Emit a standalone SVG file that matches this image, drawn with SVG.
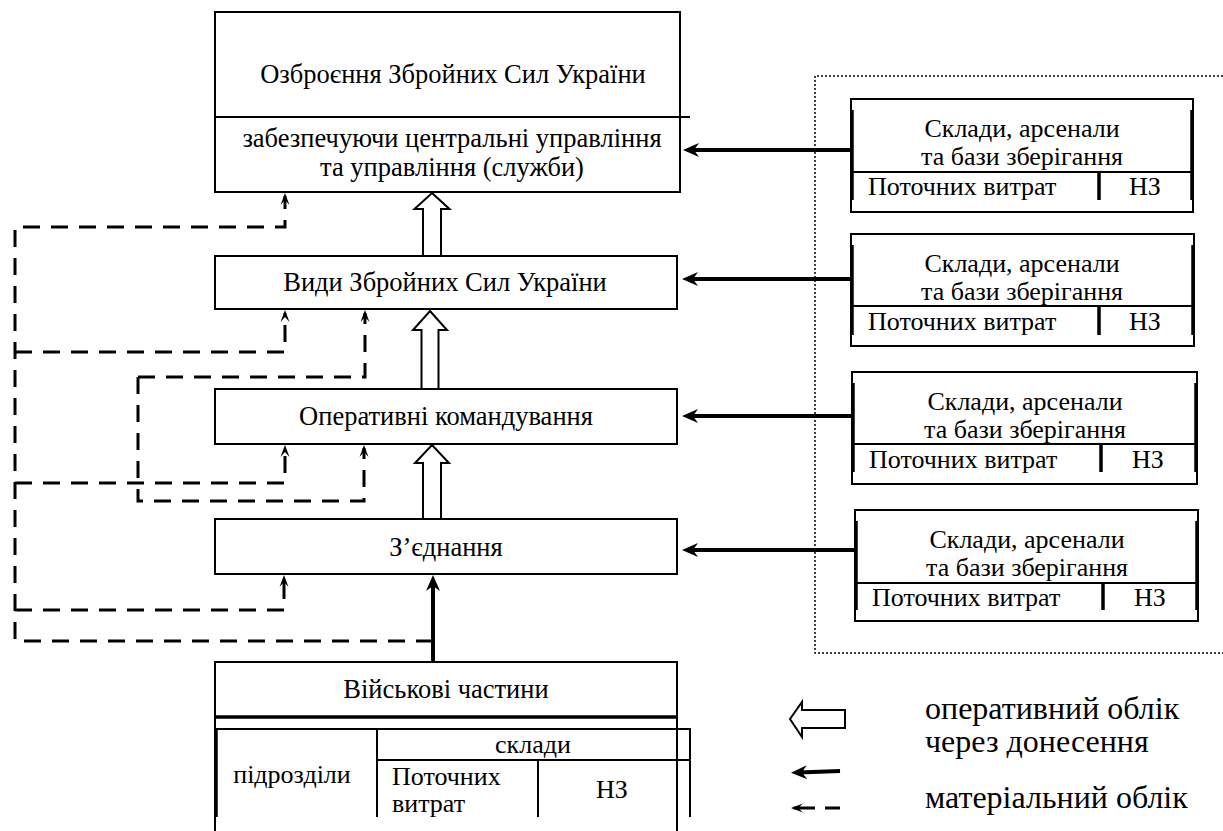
<svg xmlns="http://www.w3.org/2000/svg" width="1223" height="831" viewBox="0 0 1223 831">
<style>
text{font-family:'Liberation Serif','Times New Roman',serif;font-size:26px;fill:#000}
.c{text-anchor:middle}
.t{font-size:26.5px}
.lg{font-size:32px}
.box{fill:#fff;stroke:#000;stroke-width:2}
.ln{stroke:#000;stroke-width:2;fill:none}
.thick{stroke:#000;stroke-width:3.5;fill:none}
.solid{stroke:#000;stroke-width:4;fill:none}
.dash{stroke:#000;stroke-width:3;fill:none;stroke-dasharray:17 11}
.block{fill:#fff;stroke:#000;stroke-width:2;stroke-linejoin:miter}
.dot{stroke:#000;stroke-width:1.5;fill:none;stroke-dasharray:2 2}
</style>
<defs>
<marker id="ah" viewBox="-24 -8 25 16" refX="-8" refY="0" markerWidth="25" markerHeight="16" markerUnits="userSpaceOnUse" orient="auto">
<path d="M0,0 L-16,-7 L-11,0 L-16,7 Z" fill="#000"/>
</marker>
<marker id="ahd" viewBox="-16 -6 17 12" refX="-3" refY="0" markerWidth="17" markerHeight="12" markerUnits="userSpaceOnUse" orient="auto">
<path d="M0,0 L-12,-4.5 L-7,0 L-12,4.5 Z" fill="#000"/>
</marker>
</defs>

<g id="container">
<path class="dot" d="M1223,76 H815 V653 H1223"/>
</g>

<g id="node-top">
<rect class="box" x="215" y="12" width="465" height="180"/>
<line class="ln" x1="215" y1="117" x2="690" y2="117"/>
<text class="c t" x="453" y="83">Озброєння Збройних Сил України</text>
<text class="c t" x="452" y="147">забезпечуючи центральні управління</text>
<text class="c t" x="452" y="176">та управління (служби)</text>
</g>

<g id="node-vydy">
<rect class="box" x="215" y="256" width="462" height="53"/>
<text class="c t" x="445" y="291">Види Збройних Сил України</text>
</g>

<g id="node-operkom">
<rect class="box" x="215" y="389" width="462" height="55"/>
<text class="c t" x="446" y="425">Оперативні командування</text>
</g>

<g id="node-zjednannia">
<rect class="box" x="215" y="519" width="462" height="55"/>
<text class="c t" x="446" y="556">З’єднання</text>
</g>

<g id="node-chastyny">
<path class="ln" d="M215,831 V662 H677 V831"/>
<line class="thick" x1="215" y1="717" x2="677" y2="717"/>
<text class="c t" x="446" y="698">Військові частини</text>
<path class="ln" d="M215,729 H690 V817"/>
<line class="thick" x1="216" y1="729" x2="216" y2="817"/>
<line class="ln" x1="377" y1="729" x2="377" y2="817"/>
<line class="ln" x1="377" y1="760" x2="690" y2="760"/>
<line class="ln" x1="538" y1="760" x2="538" y2="817"/>
<text class="c" x="292" y="783">підрозділи</text>
<text class="c" x="533" y="753">склади</text>
<text x="392" y="785">Поточних</text>
<text x="392" y="812">витрат</text>
<text class="c" x="612" y="798">НЗ</text>
</g>

<g id="node-sklad1">
<rect class="box" x="851" y="99" width="342" height="113"/>
<line class="thick" x1="852" y1="110" x2="852" y2="200"/>
<line class="thick" x1="1192" y1="110" x2="1192" y2="200"/>
<line class="ln" x1="851" y1="172" x2="1193" y2="172"/>
<line class="thick" x1="1099" y1="172" x2="1099" y2="200"/>
<text class="c" x="1022" y="137">Склади, арсенали</text>
<text class="c" x="1022" y="165">та бази зберігання</text>
<text x="868" y="195">Поточних витрат</text>
<text class="c" x="1145" y="195">НЗ</text>
</g>

<g id="node-sklad2">
<rect class="box" x="851" y="234" width="343" height="112"/>
<line class="thick" x1="852" y1="245" x2="852" y2="335"/>
<line class="thick" x1="1193" y1="245" x2="1193" y2="335"/>
<line class="ln" x1="851" y1="306" x2="1194" y2="306"/>
<line class="thick" x1="1099" y1="306" x2="1099" y2="335"/>
<text class="c" x="1022" y="272">Склади, арсенали</text>
<text class="c" x="1022" y="300">та бази зберігання</text>
<text x="868" y="330">Поточних витрат</text>
<text class="c" x="1145" y="330">НЗ</text>
</g>

<g id="node-sklad3">
<rect class="box" x="852" y="372" width="345" height="112"/>
<line class="thick" x1="853" y1="383" x2="853" y2="472"/>
<line class="thick" x1="1196" y1="383" x2="1196" y2="472"/>
<line class="ln" x1="852" y1="444" x2="1197" y2="444"/>
<line class="thick" x1="1101" y1="444" x2="1101" y2="472"/>
<text class="c" x="1025" y="410">Склади, арсенали</text>
<text class="c" x="1025" y="438">та бази зберігання</text>
<text x="869" y="468">Поточних витрат</text>
<text class="c" x="1148" y="468">НЗ</text>
</g>

<g id="node-sklad4">
<rect class="box" x="855" y="510" width="343" height="111"/>
<line class="thick" x1="856" y1="521" x2="856" y2="610"/>
<line class="thick" x1="1197" y1="521" x2="1197" y2="610"/>
<line class="ln" x1="855" y1="583" x2="1198" y2="583"/>
<line class="thick" x1="1103" y1="583" x2="1103" y2="610"/>
<text class="c" x="1027" y="548">Склади, арсенали</text>
<text class="c" x="1027" y="576">та бази зберігання</text>
<text x="872" y="606">Поточних витрат</text>
<text class="c" x="1150" y="606">НЗ</text>
</g>

<g id="connectors">
<polygon class="block" points="432,193 449.5,209 441,209 441,256 423,256 423,209 414.5,209"/>
<polygon class="block" points="430,311 447,330 438.5,330 438.5,389 421.5,389 421.5,330 413,330"/>
<polygon class="block" points="432,445 449,463 441,463 441,519 423,519 423,463 415,463"/>
<line class="solid" x1="851" y1="150" x2="691" y2="150" marker-end="url(#ah)"/>
<line class="solid" x1="851" y1="279" x2="690" y2="279" marker-end="url(#ah)"/>
<line class="solid" x1="852" y1="416" x2="690" y2="416" marker-end="url(#ah)"/>
<line class="solid" x1="855" y1="550" x2="690" y2="550" marker-end="url(#ah)"/>
<line class="solid" x1="433" y1="662" x2="433" y2="583" marker-end="url(#ah)"/>
<path class="dash" d="M433,641 H15 V227 H285 V196" marker-end="url(#ahd)"/>
<path class="dash" d="M15,352 H285 V313" marker-end="url(#ahd)"/>
<path class="dash" d="M15,483 H285 V448" marker-end="url(#ahd)"/>
<path class="dash" d="M15,610 H284 V578" marker-end="url(#ahd)"/>
<path class="dash" d="M138,377 H365 V313" marker-end="url(#ahd)"/>
<path class="dash" d="M138,377 V501 H364 V448" marker-end="url(#ahd)"/>
</g>

<g id="legend">
<polygon class="block" points="790,719 802,702 802,710 845,710 845,728 802,728 802,737"/>
<line class="solid" x1="840" y1="771" x2="799" y2="772.5" marker-end="url(#ah)"/>
<path class="dash" d="M840,808 H794" style="stroke-dasharray:15 10 30" marker-end="url(#ahd)"/>
<text class="lg" x="925" y="719">оперативний облік</text>
<text class="lg" x="925" y="752">через донесення</text>
<text class="lg" x="925" y="808">матеріальний облік</text>
</g>
</svg>
